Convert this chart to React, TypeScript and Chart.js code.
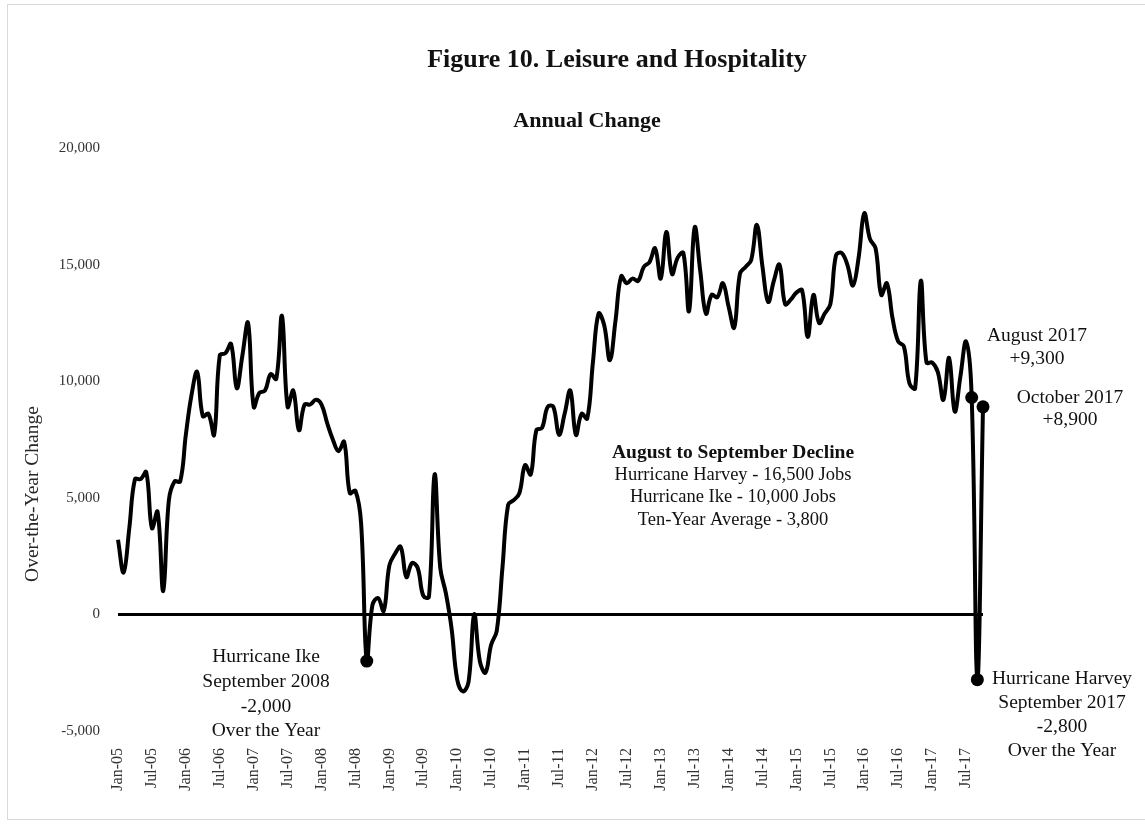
import { useEffect, useRef } from 'react';
import { Chart, registerables } from 'chart.js';

Chart.register(...registerables);

// Over-the-year change in Leisure and Hospitality employment, by month
const MONTHS = ['Jan', 'Feb', 'Mar', 'Apr', 'May', 'Jun', 'Jul', 'Aug', 'Sep', 'Oct', 'Nov', 'Dec'];

const y2005 = [3200, 1800, 3700, 5800, 5800, 6100, 3700, 4400, 1000, 4900, 5700, 5700];
const y2006 = [7700, 9400, 10400, 8500, 8600, 7700, 11100, 11200, 11600, 9700, 11100, 12500];
const y2007 = [8900, 9500, 9600, 10300, 10100, 12800, 8900, 9600, 7900, 9000, 9000, 9200];
const y2008 = [9000, 8200, 7500, 7000, 7400, 5200, 5300, 3900, -2000, 400, 700, 150];
const y2009 = [2100, 2600, 2900, 1600, 2200, 2000, 800, 750, 6000, 2000, 900, -600];
const y2010 = [-2800, -3300, -2900, 0, -2000, -2500, -1300, -700, 2000, 4700, 4900, 5200];
const y2011 = [6400, 6000, 7900, 8000, 8900, 8900, 7700, 8600, 9600, 7700, 8600, 8400];
const y2012 = [10800, 12900, 12400, 10900, 12600, 14500, 14200, 14400, 14300, 14900, 15100, 15700];
const y2013 = [14400, 16400, 14600, 15300, 15500, 13000, 16600, 14700, 12900, 13700, 13600, 14200];
const y2014 = [13200, 12300, 14600, 14900, 15200, 16700, 14900, 13400, 14300, 15000, 13300, 13500];
const y2015 = [13800, 13900, 11900, 13700, 12500, 12900, 13300, 15400, 15500, 15000, 14100, 15300];
const y2016 = [17200, 16100, 15700, 13700, 14200, 12700, 11700, 11500, 9900, 9700, 14300, 10800];
const y2017 = [10800, 10400, 9200, 11000, 8700, 10200, 11700, 9300, -2800, 8900];

const YEAR_SERIES: [string, number[]][] = [
  ['05', y2005], ['06', y2006], ['07', y2007], ['08', y2008], ['09', y2009],
  ['10', y2010], ['11', y2011], ['12', y2012], ['13', y2013], ['14', y2014],
  ['15', y2015], ['16', y2016], ['17', y2017],
];

const LABELS: string[] = YEAR_SERIES.flatMap(([yy, vals]) => vals.map((_, i) => `${MONTHS[i]}-${yy}`));
const VALUES: number[] = YEAR_SERIES.flatMap(([, vals]) => vals);

// Months highlighted with a dot
const MARKED = ['Sep-08', 'Aug-17', 'Sep-17', 'Oct-17'];

const Y_MIN = -5000;
const Y_MAX = 20000;
const Y_STEP = 5000;

const TITLE = 'Figure 10. Leisure and Hospitality';
const SUBTITLE = 'Annual Change';
const Y_TITLE = 'Over-the-Year Change';
const DECLINE_HEAD = 'August to September Decline';
const DECLINE_LINES = ['Hurricane Harvey - 16,500 Jobs', 'Hurricane Ike - 10,000 Jobs', 'Ten-Year Average - 3,800'];
const IKE_NOTE = ['Hurricane Ike', 'September 2008', '-2,000', 'Over the Year'];
const HARVEY_NOTE = ['Hurricane Harvey', 'September 2017', '-2,800', 'Over the Year'];
const AUG_NOTE = ['August 2017', '+9,300'];
const OCT_NOTE = ['October 2017', '+8,900'];

const FONT = "'Liberation Serif', 'Times New Roman', serif";

const textPlugin = {
  id: 'figureText',
  beforeDraw(chart: any) {
    const { ctx } = chart;
    ctx.save();
    ctx.strokeStyle = '#d9d9d9';
    ctx.lineWidth = 1;
    ctx.strokeRect(7.5, 4.5, 1300, 815);
    ctx.restore();
  },
  afterDraw(chart: any) {
    const { ctx } = chart;
    ctx.save();
    ctx.fillStyle = '#111';
    ctx.textAlign = 'center';
    ctx.textBaseline = 'middle';

    ctx.font = `bold 26px ${FONT}`;
    ctx.fillText(TITLE, 617, 60);
    ctx.font = `bold 22px ${FONT}`;
    ctx.fillText(SUBTITLE, 587, 121);

    ctx.font = `bold 19.5px ${FONT}`;
    ctx.fillText(DECLINE_HEAD, 733, 453);
    ctx.font = `18.5px ${FONT}`;
    DECLINE_LINES.forEach((t, i) => ctx.fillText(t, 733, 475 + i * 22.5));

    ctx.font = `19.5px ${FONT}`;
    IKE_NOTE.forEach((t, i) => ctx.fillText(t, 266, 657 + i * 24.7));
    HARVEY_NOTE.forEach((t, i) => ctx.fillText(t, 1062, 679 + i * 24));
    AUG_NOTE.forEach((t, i) => ctx.fillText(t, 1037, 336 + i * 23));
    OCT_NOTE.forEach((t, i) => ctx.fillText(t, 1070, 398 + i * 22));

    ctx.translate(33, 494);
    ctx.rotate(-Math.PI / 2);
    ctx.fillStyle = '#262626';
    ctx.font = `19.5px ${FONT}`;
    ctx.fillText(Y_TITLE, 0, 0);
    ctx.restore();
  },
};

export default function App() {
  const canvasRef = useRef<HTMLCanvasElement | null>(null);

  useEffect(() => {
    if (!canvasRef.current) return;
    const chart = new Chart(canvasRef.current, {
      type: 'line',
      data: {
        labels: LABELS,
        datasets: [
          {
            data: VALUES,
            borderColor: '#000',
            borderWidth: 4,
            tension: 0.4,
            clip: false as any,
            pointRadius: (c: any) => (MARKED.includes(LABELS[c.dataIndex]) ? 6.5 : 0),
            pointHoverRadius: 0,
            pointBackgroundColor: '#000',
            pointBorderColor: '#000',
            pointBorderWidth: 0,
          },
        ],
      },
      options: {
        responsive: false,
        animation: false,
        events: [],
        layout: { padding: { left: 0, top: 148, right: 162, bottom: 0 } },
        plugins: { legend: { display: false }, tooltip: { enabled: false } },
        scales: {
          x: {
            type: 'category',
            offset: false,
            grid: { display: false },
            border: { display: false },
            ticks: {
              autoSkip: false,
              minRotation: 90,
              maxRotation: 90,
              padding: 9,
              color: '#333',
              font: { family: FONT, size: 16 },
              callback: (_v: any, i: number) => (i % 6 === 0 ? LABELS[i] : ''),
            },
            afterFit: (s: any) => {
              s.height = 104;
            },
          },
          y: {
            min: Y_MIN,
            max: Y_MAX,
            border: { display: false },
            grid: {
              drawTicks: false,
              color: (c: any) => (c.tick && c.tick.value === 0 ? '#000' : 'rgba(0,0,0,0)'),
              lineWidth: (c: any) => (c.tick && c.tick.value === 0 ? 3 : 0),
            },
            ticks: {
              stepSize: Y_STEP,
              padding: 18,
              color: '#333',
              font: { family: FONT, size: 15 },
              callback: (v: any) => Number(v).toLocaleString('en-US'),
            },
            afterFit: (s: any) => {
              s.width = 118;
            },
          },
        },
      },
      plugins: [textPlugin],
    });
    return () => chart.destroy();
  }, []);

  return (
    <div style={{ position: 'absolute', left: 0, top: 0, width: 1145, height: 835, background: '#fff' }}>
      <canvas ref={canvasRef} width={1145} height={835} style={{ display: 'block' }} />
    </div>
  );
}
